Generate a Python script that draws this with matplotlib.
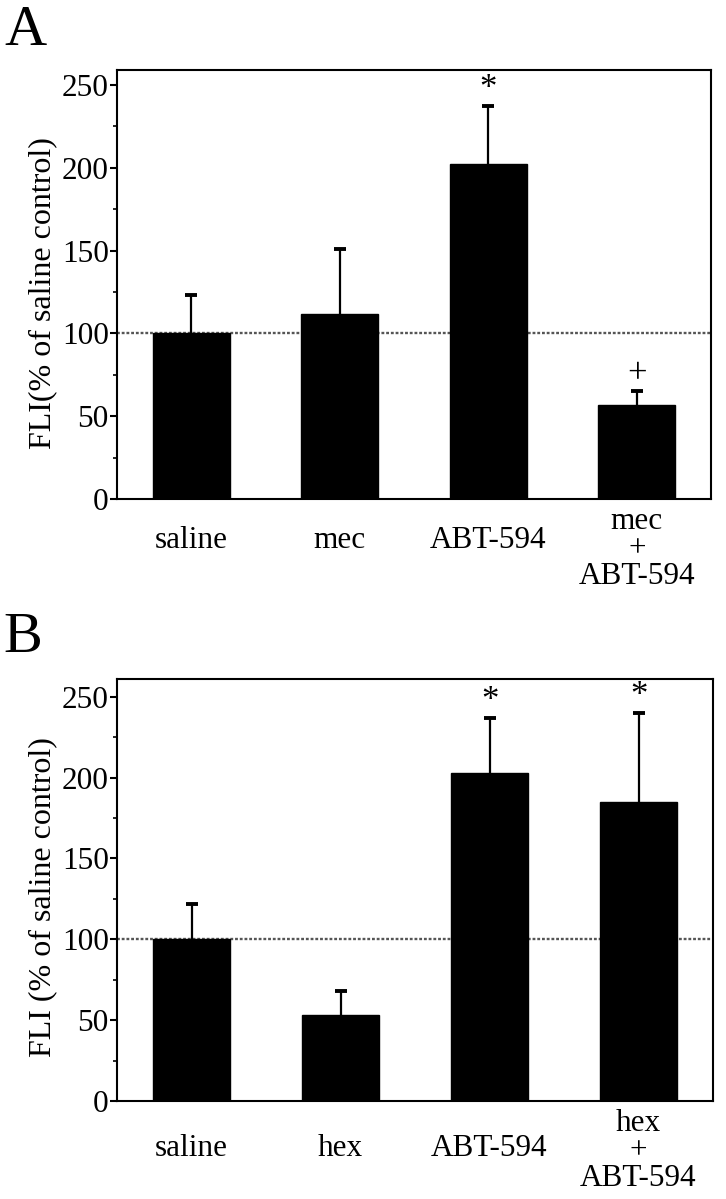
import matplotlib
matplotlib.use('Agg')
import matplotlib.pyplot as plt
from matplotlib.ticker import MultipleLocator
from matplotlib.transforms import ScaledTranslation

plt.rcParams['font.family'] = ['Liberation Serif', 'DejaVu Serif']

# panel A data
labels_a = ['saline', 'mec', 'ABT-594', 'mec\n+\nABT-594']
means_a = [100, 112, 202, 57]
errs_a = [23, 39, 35, 8]
marks_a = ['', '', '*', '+']

# panel B data
labels_b = ['saline', 'hex', 'ABT-594', 'hex\n+\nABT-594']
means_b = [100, 53, 203, 185]
errs_b = [22, 15, 34, 55]
marks_b = ['', '', '*', '*']


def draw_panel(fig, ax, labels, means, errs, marks, ylabel, top, label_pad, multi_shift):
    x = list(range(len(labels)))
    ax.axhline(100, color='#555555', lw=1.7, ls=(0, (1.2, 0.8)), zorder=1)
    ax.bar(x, means, width=0.52, color='black', edgecolor='black', zorder=2)
    eb = ax.errorbar(x, means, yerr=[[0] * len(errs), errs], fmt='none', ecolor='black',
                     elinewidth=1.6, capsize=4, capthick=2.8, zorder=3)
    eb[1][0].set_visible(False)  # no cap at bar top
    for xi, m, e, mk in zip(x, means, errs, marks):
        if mk:
            ax.annotate(mk, (xi, m + e), xytext=(0, 12), textcoords='offset points',
                        ha='center', va='center', fontsize=25)
    ax.set_xlim(-0.5, 3.5)
    ax.set_ylim(0, top)
    ax.yaxis.set_major_locator(MultipleLocator(50))
    ax.yaxis.set_minor_locator(MultipleLocator(25))
    ax.tick_params(axis='y', which='major', direction='out', length=5, width=1.5,
                   labelsize=22.5, pad=1)
    ax.tick_params(axis='y', which='minor', direction='out', length=3, width=1.2)
    ax.set_xticks(x)
    ax.set_xticklabels(labels, fontsize=22.5, linespacing=0.95)
    ax.tick_params(axis='x', length=0, pad=label_pad)
    for t in ax.get_xticklabels():
        t.set_va('center')
        t.set_multialignment('center')
        if '\n' in t.get_text():
            t.set_transform(t.get_transform() +
                            ScaledTranslation(0, -multi_shift / 72, fig.dpi_scale_trans))
    ax.set_ylabel(ylabel, fontsize=23)
    for s in ax.spines.values():
        s.set_linewidth(1.5)


fig = plt.figure(figsize=(7.26, 11.99), dpi=100)
ax_a = fig.add_axes([0.1612, 0.5838, 0.8182, 0.3578])
ax_b = fig.add_axes([0.1612, 0.0817, 0.8209, 0.3520])

draw_panel(fig, ax_a, labels_a, means_a, errs_a, marks_a, 'FLI(% of saline control)', 259, 30, 6)
draw_panel(fig, ax_b, labels_b, means_b, errs_b, marks_b, 'FLI (% of saline control)', 261, 34, 2)
ax_a.yaxis.set_label_coords(-0.101, 0.48)
ax_b.yaxis.set_label_coords(-0.101, 0.483)

fig.text(0.006, 0.9625, 'A', fontsize=42, va='baseline', ha='left')
fig.text(0.005, 0.4562, 'B', fontsize=42, va='baseline', ha='left')

fig.savefig('out.png', dpi=100)
